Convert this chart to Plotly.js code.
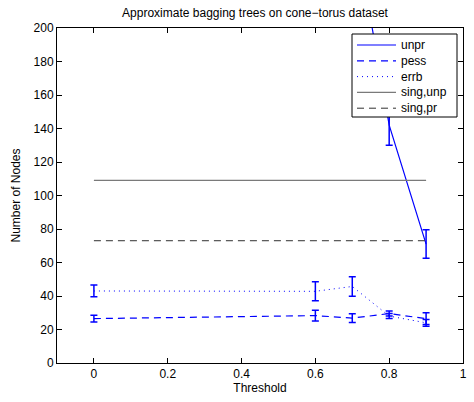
<!DOCTYPE html>
<html>
<head>
<meta charset="utf-8">
<script src="https://cdn.plot.ly/plotly-3.0.1.min.js"></script>
<style>html,body{margin:0;padding:0;background:#fff;}</style>
</head>
<body>
<div id="chart" style="width:474px;height:402px;"></div>
<script>
// Data
var thresholds = [0, 0.6, 0.7, 0.8, 0.9];
var unprValues = [310, 290, 268, 142, 71];
var unprErr = [15, 14, 13, 12, 8.5];
var pessValues = [26.5, 28.3, 26.8, 29.5, 26.5];
var pessErr = [2, 3.2, 2.6, 1.5, 3.5];
var errbValues = [43, 42.8, 45.7, 28, 24];
var errbErr = [3.5, 5.7, 5.8, 1.5, 2];
var singX = [0, 0.9];
var singUnp = [109, 109];
var singPr = [73, 73];
var seriesNames = ['unpr', 'pess', 'errb', 'sing,unp', 'sing,pr'];
var xTicks = [0, 0.2, 0.4, 0.6, 0.8, 1];
var yTicks = [0, 20, 40, 60, 80, 100, 120, 140, 160, 180, 200];

var blue = '#0000ff';
var font = {family: 'Liberation Sans, Arial, Helvetica, sans-serif', size: 12, color: '#000'};

var styles = [
  {color: blue, width: 1.2},
  {color: blue, width: 1.2, dash: '7px,5px'},
  {color: blue, width: 1, dash: '1px,4px'},
  {color: '#7a7a7a', width: 1.2},
  {color: '#303030', width: 1, dash: '7px,5px'}
];
var ebar = function (arr) {
  return {type: 'data', array: arr, visible: true, color: blue, thickness: 1.5, width: 3.5};
};

var traces = [
  {x: thresholds, y: unprValues, name: seriesNames[0], mode: 'lines', type: 'scatter', line: styles[0], error_y: ebar(unprErr)},
  {x: thresholds, y: pessValues, name: seriesNames[1], mode: 'lines', type: 'scatter', line: styles[1], error_y: ebar(pessErr)},
  {x: thresholds, y: errbValues, name: seriesNames[2], mode: 'lines', type: 'scatter', line: styles[2], error_y: ebar(errbErr)},
  {x: singX, y: singUnp, name: seriesNames[3], mode: 'lines', type: 'scatter', line: styles[3]},
  {x: singX, y: singPr, name: seriesNames[4], mode: 'lines', type: 'scatter', line: styles[4]}
];

// Plot geometry in pixels (for the MATLAB-style legend box)
var W = 474, H = 402, mL = 57, mR = 11, mT = 28, mB = 39;
var pw = W - mL - mR, ph = H - mT - mB;
function px(x) { return (x - mL) / pw; }
function py(y) { return (H - mB - y) / ph; }

var shapes = [{
  type: 'rect', xref: 'paper', yref: 'paper',
  x0: px(352), x1: px(457), y0: py(117), y1: py(34),
  line: {color: '#000', width: 1}, fillcolor: '#fff', layer: 'above'
}];
var annotations = [];
for (var i = 0; i < seriesNames.length; i++) {
  var yc = 45 + i * 15.8;
  var st = styles[i];
  shapes.push({
    type: 'line', xref: 'paper', yref: 'paper', layer: 'above',
    x0: px(357), x1: px(396), y0: py(yc), y1: py(yc),
    line: {color: st.color, width: st.width, dash: st.dash || 'solid'}
  });
  annotations.push({
    xref: 'paper', yref: 'paper', x: px(399), y: py(yc),
    xanchor: 'left', yanchor: 'middle', showarrow: false,
    text: seriesNames[i], font: font
  });
}

var axisCommon = {
  showline: true, mirror: 'ticks', linecolor: '#000', linewidth: 1,
  ticks: 'inside', ticklen: 5, tickcolor: '#000', tickwidth: 1,
  showgrid: false, zeroline: false, tickfont: font
};

var layout = {
  width: W, height: H,
  margin: {l: mL, r: mR, t: mT, b: mB},
  paper_bgcolor: '#fff', plot_bgcolor: '#fff',
  font: font,
  title: {text: 'Approximate bagging trees on cone\u2212torus dataset', font: font,
          x: 0.538, xanchor: 'center', y: 0.967, yanchor: 'middle'},
  xaxis: Object.assign({}, axisCommon, {
    range: [-0.1, 1], tickvals: xTicks, ticktext: xTicks.map(String),
    title: {text: 'Threshold', font: font, standoff: 2}
  }),
  yaxis: Object.assign({}, axisCommon, {
    range: [0, 200], tickvals: yTicks, ticktext: yTicks.map(String),
    title: {text: 'Number of Nodes', font: font, standoff: 10}
  }),
  showlegend: false,
  shapes: shapes,
  annotations: annotations
};

Plotly.newPlot('chart', traces, layout, {displayModeBar: false, staticPlot: true});
</script>
</body>
</html>
